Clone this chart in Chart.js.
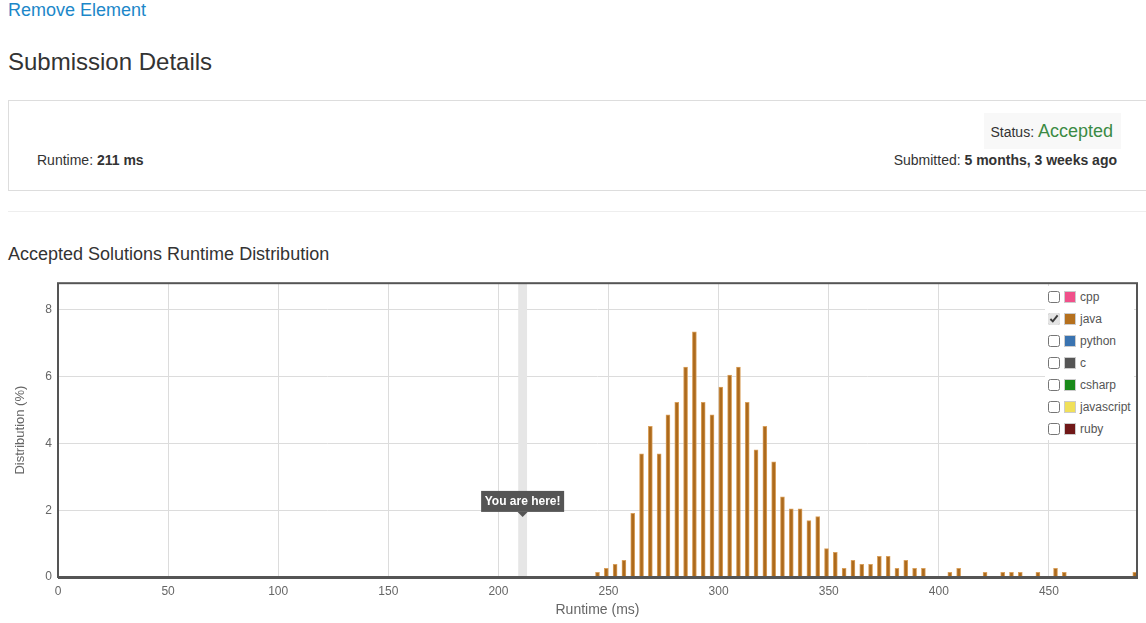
<!DOCTYPE html>
<html lang="en">
<head>
<meta charset="UTF-8">
<title>Submission Details</title>
<script src="https://cdn.jsdelivr.net/npm/chart.js"></script>
<style>
  body { margin: 0; width: 1146px; height: 623px; position: relative; overflow: hidden; background: #fff;
         font-family: "Liberation Sans", Arial, Helvetica, sans-serif; color: #333; }
  .abs { position: absolute; white-space: nowrap; }
  #problem { left: 8px; top: 0; font-size: 18px; line-height: 20px; color: #1c87c9; }
  #heading { left: 8px; top: 48px; font-size: 24px; line-height: 28px; }
  #details { left: 8px; top: 100px; width: 1150px; height: 89px; border: 1px solid #ddd; }
  #status { left: 984px; top: 113px; width: 129px; height: 36px; background: #f8f8f8; padding-right: 8px;
            text-align: right; font-size: 14px; line-height: 36px; }
  #status span { font-size: 18px; color: #3b8a44; }
  #runtime { left: 37px; top: 152px; font-size: 14px; line-height: 16px; }
  #submitted { right: 29px; top: 152px; font-size: 14px; line-height: 16px; }
  #rule { left: 8px; top: 211px; width: 1140px; height: 0; border-top: 1px solid #eee; }
  #chartTitle { left: 8px; top: 244px; font-size: 18px; line-height: 20px; }
  #chartBox { left: 0; top: 270px; width: 1146px; height: 353px; }
  #legend { left: 1045px; top: 286px; width: 89px; background: #fff; font-size: 12px; color: #555; }
  #legend div { height: 22px; display: flex; align-items: center; }
  #legend input { margin: 0 4px 0 3px; width: 12px; height: 12px; accent-color: #e4e4e4; }
  #legend i { display: inline-block; width: 10px; height: 10px; border: 1px solid #ccc; margin-right: 4px; }
</style>
</head>
<body>
  <div class="abs" id="problem">Remove Element</div>
  <div class="abs" id="heading">Submission Details</div>
  <div class="abs" id="details"></div>
  <div class="abs" id="status">Status: <span>Accepted</span></div>
  <div class="abs" id="runtime">Runtime: <b>211 ms</b></div>
  <div class="abs" id="submitted">Submitted: <b>5 months, 3 weeks ago</b></div>
  <div class="abs" id="rule"></div>
  <div class="abs" id="chartTitle">Accepted Solutions Runtime Distribution</div>
  <div class="abs" id="chartBox"><canvas id="dist" width="1146" height="353"></canvas></div>
  <div class="abs" id="legend"></div>

<script>
// runtime buckets (ms) that have accepted java solutions, and their share (%)
const runtimes = [245, 249, 253, 257, 261, 265, 269, 273, 277, 281, 285, 289, 293, 297, 301, 305, 309, 313,
  317, 321, 325, 329, 333, 337, 341, 345, 349, 353, 357, 361, 365, 369, 373, 377, 381, 385, 389, 393,
  405, 409, 421, 429, 433, 437, 445, 453, 457, 489];
const distribution = [0.14, 0.26, 0.38, 0.50, 1.91, 3.69, 4.51, 3.69, 4.86, 5.23, 6.29, 7.34, 5.23, 4.86, 5.69, 6.05, 6.29, 5.23,
  3.81, 4.51, 3.45, 2.40, 2.04, 2.04, 1.69, 1.81, 0.85, 0.74, 0.26, 0.50, 0.38, 0.38, 0.62, 0.62, 0.26, 0.50, 0.26, 0.26,
  0.14, 0.26, 0.14, 0.14, 0.14, 0.14, 0.14, 0.26, 0.14, 0.14];

const xTicks = [0, 50, 100, 150, 200, 250, 300, 350, 400, 450];
const yTicks = [0, 2, 4, 6, 8];

const languages = ['cpp', 'java', 'python', 'c', 'csharp', 'javascript', 'ruby'];
const langColors = ['#f0508a', '#b5701e', '#3a73b0', '#555555', '#1a8a1a', '#f0e05a', '#701818'];
const shown = 'java';

const myRuntime = 211;

// legend with check boxes
const legend = document.getElementById('legend');
languages.forEach((name, i) => {
  const row = document.createElement('div');
  row.innerHTML = '<input type="checkbox"' + (name === shown ? ' checked' : '') + '><i style="background:' +
    langColors[i] + '"></i>' + name;
  legend.appendChild(row);
});

// grey band at my runtime, "You are here!" label and the dark frame
const marker = {
  id: 'marker',
  beforeDatasetsDraw(chart) {
    const { ctx, chartArea: a, scales: { x } } = chart;
    const l = x.getPixelForValue(myRuntime - 2), r = x.getPixelForValue(myRuntime + 2);
    ctx.save();
    ctx.fillStyle = '#e6e6e6';
    ctx.fillRect(l, a.top, r - l, a.bottom - a.top);
    ctx.restore();
  },
  afterDraw(chart) {
    const { ctx, chartArea: a, scales: { x, y } } = chart;
    ctx.save();
    ctx.strokeStyle = '#555';
    ctx.lineWidth = 2;
    ctx.strokeRect(a.left, a.top, a.right - a.left, a.bottom - a.top);
    ctx.lineWidth = 3;
    ctx.beginPath();
    ctx.moveTo(a.left, a.bottom + 0.5);
    ctx.lineTo(a.right + 1, a.bottom + 0.5);
    ctx.stroke();

    const cx = x.getPixelForValue(myRuntime);
    const tip = y.getPixelForValue(1.8);
    const w = 83, h = 21, bottom = tip - 5;
    ctx.fillStyle = '#555';
    ctx.fillRect(cx - w / 2, bottom - h, w, h);
    ctx.beginPath();
    ctx.moveTo(cx - 5, bottom);
    ctx.lineTo(cx + 5, bottom);
    ctx.lineTo(cx, tip);
    ctx.closePath();
    ctx.fill();
    ctx.fillStyle = '#fff';
    ctx.font = 'bold 12px "Liberation Sans", Arial, sans-serif';
    ctx.textAlign = 'center';
    ctx.textBaseline = 'middle';
    ctx.fillText('You are here!', cx, bottom - h / 2);
    ctx.restore();
  }
};

Chart.defaults.font.family = '"Liberation Sans", Arial, Helvetica, sans-serif';
Chart.defaults.color = '#666';

new Chart(document.getElementById('dist'), {
  type: 'bar',
  data: {
    datasets: [{
      label: shown,
      data: runtimes.map((r, i) => ({ x: r, y: distribution[i] })),
      backgroundColor: '#ad6a1c',
      borderColor: '#d9a05c',
      borderWidth: 1,
      borderSkipped: 'bottom',
      barThickness: 4
    }]
  },
  options: {
    responsive: false,
    animation: false,
    layout: { padding: { top: 11, right: 9, left: 0, bottom: 0 } },
    plugins: { legend: { display: false }, tooltip: { enabled: false } },
    scales: {
      x: {
        type: 'linear',
        min: 0,
        max: 490,
        offset: false,
        afterBuildTicks: s => { s.ticks = xTicks.map(v => ({ value: v })); },
        afterFit: s => { s.height = 46; },
        ticks: { font: { size: 12 }, padding: 7, maxRotation: 0 },
        grid: { color: '#dcdcdc', drawTicks: false, offset: false },
        border: { display: false },
        title: { display: true, text: 'Runtime (ms)', color: '#666', font: { size: 14 }, padding: { bottom: 4 } }
      },
      y: {
        min: 0,
        max: 8.8,
        afterBuildTicks: s => { s.ticks = yTicks.map(v => ({ value: v })); },
        afterFit: s => { s.width = 58; },
        ticks: { font: { size: 12 }, padding: 6 },
        grid: { color: '#dcdcdc', drawTicks: false },
        border: { display: false },
        title: { display: true, text: 'Distribution (%)', color: '#666', font: { size: 13 }, padding: { top: 13 } }
      }
    }
  },
  plugins: [marker]
});
</script>
</body>
</html>
